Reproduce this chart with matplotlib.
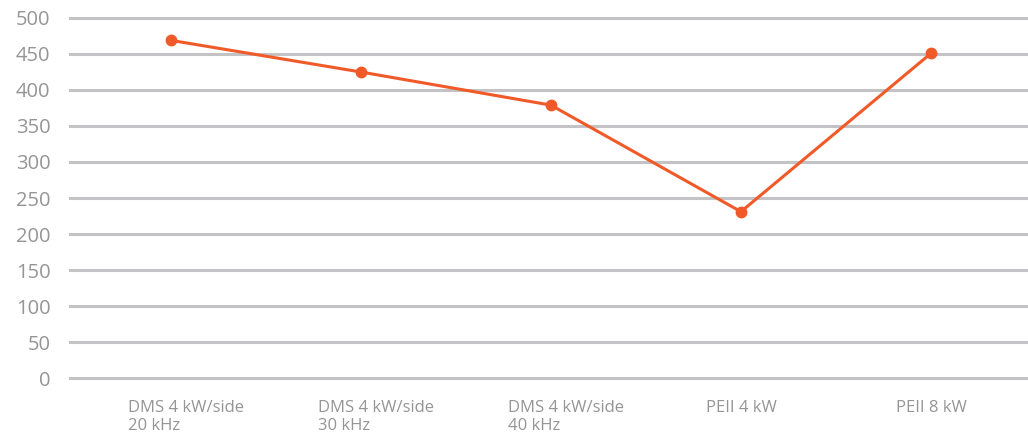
import matplotlib
matplotlib.use("Agg")
import matplotlib.pyplot as plt
import matplotlib.transforms as mtransforms

categories = ["DMS 4 kW/side\n20 kHz", "DMS 4 kW/side\n30 kHz", "DMS 4 kW/side\n40 kHz",
              "PEII 4 kW", "PEII 8 kW"]
values = [469, 425, 379, 231, 451]
yticks = [0, 50, 100, 150, 200, 250, 300, 350, 400, 450, 500]

plt.rcParams['font.family'] = ['Open Sans', 'DejaVu Sans']

fig = plt.figure(figsize=(10.28, 4.44), dpi=100)
ax = fig.add_axes([0.068, 0.1486, 0.932, 0.8109])

x = list(range(len(categories)))
ax.plot(x, values, color='#f05a28', linewidth=2.2, marker='o', markersize=7.5, zorder=3)

ax.set_ylim(0, 500)
ax.set_xlim(-0.53, 4.51)
ax.set_yticks(yticks)
ax.set_yticklabels([str(v) for v in yticks])
ax.yaxis.grid(True, color='#c3c3c6', linewidth=2.2)
for gl in ax.get_ygridlines():
    gl.set_clip_on(False)
ax.set_axisbelow(True)
for s in ax.spines.values():
    s.set_visible(False)
ax.tick_params(axis='y', length=0, pad=14, labelsize=14.5, labelcolor='#959595')
ax.tick_params(axis='x', length=0, pad=16, labelsize=12, labelcolor='#959595')

ax.set_xticks(x)
ax.set_xticklabels(categories)
for lab in ax.get_xticklabels():
    lab.set_verticalalignment('top')
    lab.set_multialignment('left')
    lab.set_linespacing(1.12)
    if "\n" in lab.get_text():
        lab.set_transform(lab.get_transform() + mtransforms.ScaledTranslation(0.15, 0, fig.dpi_scale_trans))

fig.savefig("out.png", dpi=100)
